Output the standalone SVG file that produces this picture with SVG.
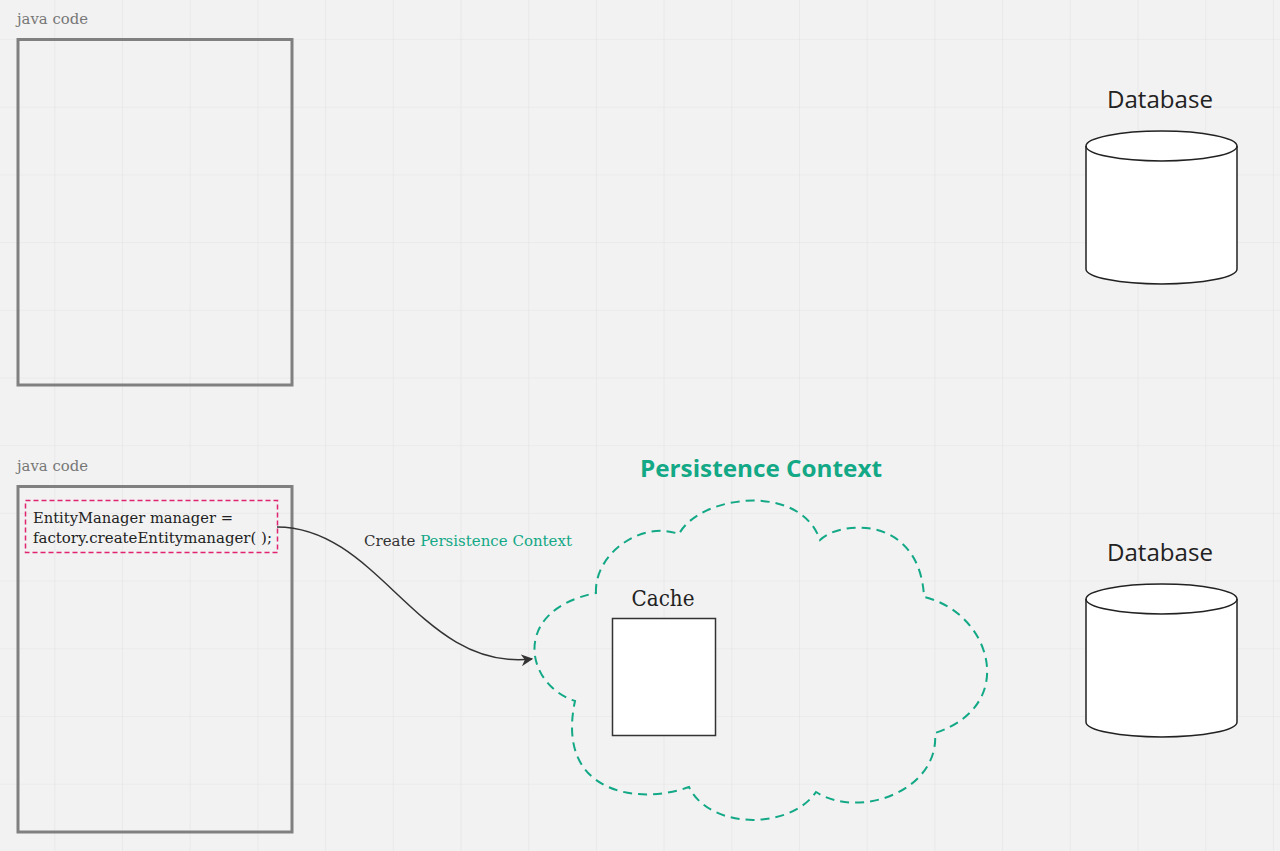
<svg xmlns="http://www.w3.org/2000/svg" width="1280" height="851" viewBox="0 0 1280 851">
<defs>
<pattern id="grid" patternUnits="userSpaceOnUse" x="54.3" y="39" width="67.7" height="67.7">
<path d="M0 0V67.7M0 0H67.7" fill="none" stroke="#e3e3e3" stroke-width="1.2"/>
</pattern>
<marker id="arr" viewBox="0 0 10 10" refX="9" refY="5" markerWidth="12" markerHeight="12" markerUnits="userSpaceOnUse" orient="auto">
<path d="M0 0L10 5L0 10L3 5Z" fill="#333"/>
</marker>
<style>
.frame{fill:none;stroke:#808080;stroke-width:3}
.lbl{font-family:"DejaVu Serif",serif;fill:#777;font-size:15px}
.code{font-family:"DejaVu Serif",serif;fill:#222;font-size:15.5px}
.db{font-family:"Open Sans",sans-serif;fill:#222;font-size:23px}
.cyl{fill:#fff;stroke:#222;stroke-width:1.5}
.teal{fill:#13a886}
</style>
</defs>
<rect width="1280" height="851" fill="#f2f2f2"/>
<rect width="1280" height="851" fill="url(#grid)"/>

<g id="java-top">
<text class="lbl" x="17" y="24" textLength="71" lengthAdjust="spacingAndGlyphs">java code</text>
<rect class="frame" x="18" y="39.5" width="274" height="345.5"/>
</g>

<g id="java-bottom">
<text class="lbl" x="17" y="471" textLength="71" lengthAdjust="spacingAndGlyphs">java code</text>
<rect class="frame" x="18" y="486.5" width="274" height="345.5"/>
</g>

<g id="em-code">
<rect x="25.5" y="500.5" width="252" height="52" fill="none" stroke="#e0246f" stroke-width="1.5" stroke-dasharray="5,3"/>
<text class="code" x="33" y="523" textLength="200" lengthAdjust="spacingAndGlyphs">EntityManager manager =</text>
<text class="code" x="33" y="543" textLength="239" lengthAdjust="spacingAndGlyphs">factory.createEntitymanager( );</text>
</g>

<g id="connectors">
<path d="M277 527C380 527 420 672 532 659" fill="none" stroke="#333" stroke-width="1.5" marker-end="url(#arr)"/>
<text class="code" x="364" y="546" textLength="208" lengthAdjust="spacingAndGlyphs" style="fill:#333">Create <tspan class="teal">Persistence Context</tspan></text>
</g>

<g id="persistence-context">
<text x="761" y="476.5" text-anchor="middle" font-family="'Open Sans',sans-serif" font-weight="bold" font-size="23" class="teal" textLength="242" lengthAdjust="spacingAndGlyphs">Persistence Context</text>
<path d="M596 593C594 555 640 520 679 534C700 495 800 482 820 540C840 520 920 515 924 597C990 612 1020 705 935 733C940 790 860 820 816 792C790 830 710 830 689 787C640 805 555 795 575 701C525 685 510 610 596 593Z" fill="none" stroke="#13a886" stroke-width="2" stroke-dasharray="9,6"/>
</g>

<g id="cache">
<text x="663" y="606" text-anchor="middle" font-family="'DejaVu Serif',serif" font-size="21.5" fill="#222" textLength="63" lengthAdjust="spacingAndGlyphs">Cache</text>
<rect x="612.5" y="618.5" width="103" height="117" fill="#fff" stroke="#333" stroke-width="1.5"/>
</g>

<g id="database-top">
<text class="db" x="1160" y="108" text-anchor="middle" textLength="106" lengthAdjust="spacingAndGlyphs">Database</text>
<path class="cyl" d="M1086 146V269A75.5 15 0 0 0 1237 269V146A75.5 15 0 0 0 1086 146Z"/>
<path d="M1086 146A75.5 15 0 0 0 1237 146" fill="none" stroke="#222" stroke-width="1.5"/>
</g>

<g id="database-bottom">
<text class="db" x="1160" y="561" text-anchor="middle" textLength="106" lengthAdjust="spacingAndGlyphs">Database</text>
<path class="cyl" d="M1086 599V722A75.5 15 0 0 0 1237 722V599A75.5 15 0 0 0 1086 599Z"/>
<path d="M1086 599A75.5 15 0 0 0 1237 599" fill="none" stroke="#222" stroke-width="1.5"/>
</g>
</svg>
